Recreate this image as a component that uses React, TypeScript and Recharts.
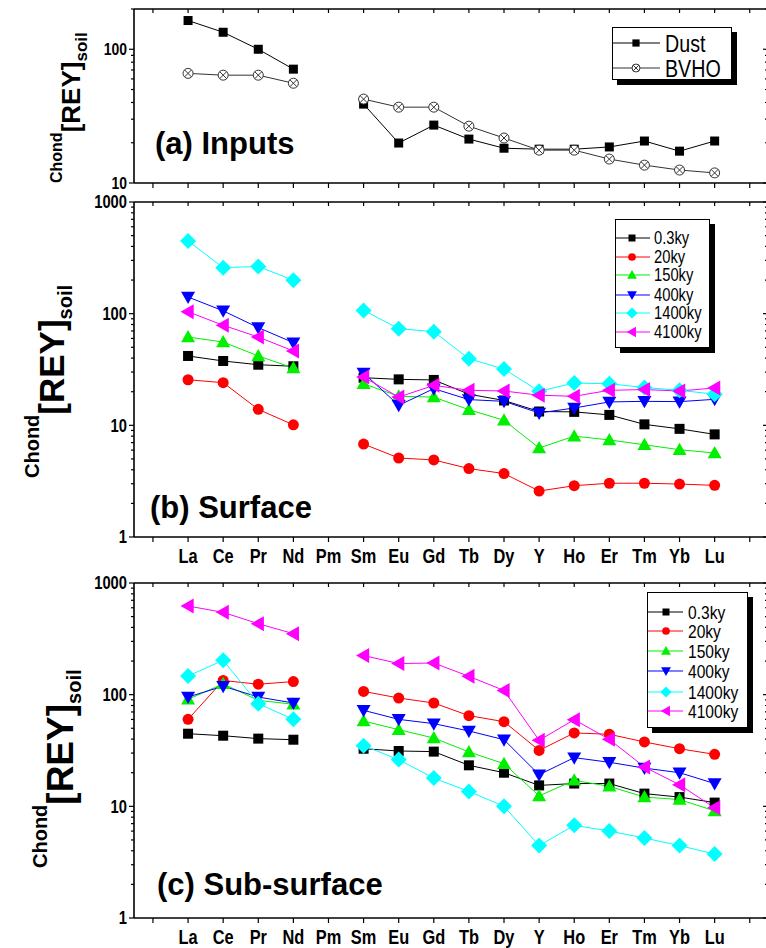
import React from 'react';
import { LineChart, Line, XAxis, YAxis } from 'recharts';

const elements = ['La', 'Ce', 'Pr', 'Nd', 'Pm', 'Sm', 'Eu', 'Gd', 'Tb', 'Dy', 'Y', 'Ho', 'Er', 'Tm', 'Yb', 'Lu'];

// (a) inputs
const dust = [164, 134, 100, 71, null, 38.9, 19.9, 27.1, 21.3, 18.2, 17.9, 17.9, 18.6, 20.6, 17.3, 20.6];
const bvho = [66, 64, 64, 55.7, null, 42.4, 36.9, 36.9, 26.6, 21.7, 17.6, 17.6, 15.1, 13.6, 12.5, 11.9];

const ages = ['0.3ky', '20ky', '150ky', '400ky', '1400ky', '4100ky'];

// (b) surface
const surf03 = [41.8, 37.7, 34.9, 33.8, null, 26.7, 25.8, 25.5, 19, 16.7, 13.3, 13.2, 12.4, 10.2, 9.3, 8.3];
const surf20 = [25.6, 24.1, 13.9, 10.1, null, 6.8, 5.1, 4.9, 4.1, 3.7, 2.58, 2.88, 3.03, 3.03, 2.98, 2.9];
const surf150 = [61.8, 55.7, 41.8, 32.6, null, 23.6, 18.2, 17.9, 13.8, 11.1, 6.27, 8.0, 7.4, 6.7, 6.05, 5.65];
const surf400 = [141, 106, 75, 55, null, 29.4, 15.1, 21.3, 17.0, 16.4, 12.9, 14.3, 16.2, 16.4, 16.3, 17.1];
const surf1400 = [448, 258, 265, 199, null, 107, 73.4, 69, 39.5, 31.9, 20.2, 23.9, 23.6, 21.8, 20.6, 19.0];
const surf4100 = [104, 78.7, 61.8, 46.3, null, 27.1, 17.9, 22.8, 20.6, 20.3, 18.6, 18.2, 20.6, 20.9, 20.3, 21.6];

// (c) sub-surface
const sub03 = [44.7, 42.9, 40.4, 39.5, null, 32.8, 31.3, 30.9, 23.3, 20.0, 15.4, 16.0, 16.0, 13.0, 12.1, 10.8];
const sub20 = [60.1, 134, 124, 131, null, 107, 93.3, 84.2, 64.9, 57.3, 31.7, 45.4, 44.2, 37.7, 32.8, 29.2];
const sub150 = [90.8, 125, 89, 82, null, 58.1, 48.6, 40.9, 30.7, 24.1, 12.4, 17.1, 15.1, 12.1, 11.5, 9.1];
const sub400 = [95.3, 119, 95.3, 84.2, null, 72.4, 60.1, 55, 47.3, 39.5, 19.2, 27.3, 24.8, 22.0, 20.0, 16.0];
const sub1400 = [147, 203, 83, 60.1, null, 34.9, 26.2, 17.9, 13.6, 10, 4.45, 6.76, 6.01, 5.2, 4.45, 3.74];
const sub4100 = [622, 546, 432, 352, null, 224, 190, 192, 146, 109, 39, 59.7, 39.8, 22.5, 15.6, 9.7];

const xTicks = [-1, 0, 1, 2, 3, 4, 5, 6, 7, 8, 9, 10, 11, 12, 13, 14, 15, 16];
const logTicksA = [10, 20, 30, 40, 50, 60, 70, 80, 90, 100, 200];
const logTicksBC = [1, 2, 3, 4, 5, 6, 7, 8, 9, 10, 20, 30, 40, 50, 60, 70, 80, 90, 100, 200, 300, 400, 500, 600, 700, 800, 900, 1000];

const ageColors = ['#000000', '#ff0000', '#00f000', '#0000ff', '#00ffff', '#ff00ff'];
const ageShapes = ['square', 'circle', 'up', 'down', 'diamond', 'left'];
const ageSizes = [10, 11, 14, 14, 16, 15];

const FONT = '"Liberation Sans", Arial, sans-serif';
const SQUEEZE = 0.82; // no narrow face installed, so squeeze Liberation Sans

function toRows(series: (number | null)[][]) {
  return elements.map((el, i) => {
    const row: any = { x: i, el };
    series.forEach((s, k) => {
      row['s' + k] = s[i];
    });
    return row;
  });
}

function NarrowText({ x, y, anchor = 'start', size, bold, children }: any) {
  return (
    <text
      transform={`translate(${x},${y}) scale(${SQUEEZE},1)`}
      dy="0.36em"
      textAnchor={anchor}
      fontFamily={FONT}
      fontWeight={bold ? 'bold' : 'normal'}
      fontSize={size}
      fill="#000"
    >
      {children}
    </text>
  );
}

function Mark({ shape, cx, cy, size, color }: any) {
  const h = size / 2;
  switch (shape) {
    case 'square':
      return <rect x={cx - h} y={cy - h} width={size} height={size} fill={color} />;
    case 'circle':
      return <circle cx={cx} cy={cy} r={h} fill={color} />;
    case 'up':
      return <polygon points={`${cx},${cy - h} ${cx + h},${cy + h * 0.75} ${cx - h},${cy + h * 0.75}`} fill={color} />;
    case 'down':
      return <polygon points={`${cx},${cy + h} ${cx + h},${cy - h * 0.75} ${cx - h},${cy - h * 0.75}`} fill={color} />;
    case 'diamond':
      return <polygon points={`${cx},${cy - h} ${cx + h},${cy} ${cx},${cy + h} ${cx - h},${cy}`} fill={color} />;
    case 'left':
      return <polygon points={`${cx - h},${cy} ${cx + h * 0.75},${cy - h} ${cx + h * 0.75},${cy + h}`} fill={color} />;
    case 'xcircle':
      return (
        <g fill="none" stroke="#333" strokeWidth={1}>
          <circle cx={cx} cy={cy} r={h} fill="#fff" />
          <line x1={cx - h * 0.7} y1={cy - h * 0.7} x2={cx + h * 0.7} y2={cy + h * 0.7} />
          <line x1={cx + h * 0.7} y1={cy - h * 0.7} x2={cx - h * 0.7} y2={cy + h * 0.7} />
        </g>
      );
    default:
      return null;
  }
}

function dotFor(shape: string, size: number, color: string) {
  return (p: any) => {
    if (p.value == null || p.cy == null || isNaN(p.cy)) return <g key={p.key} />;
    return (
      <g key={p.key}>
        <Mark shape={shape} cx={p.cx} cy={p.cy} size={size} color={color} />
      </g>
    );
  };
}

const isMajor = (v: number) => [1, 10, 100, 1000].includes(v);

function LeftTick({ x, y, payload, fontSize }: any) {
  const major = isMajor(payload.value);
  return (
    <g>
      <line x1={x} x2={x - (major ? 5 : 3)} y1={y} y2={y} stroke="#000" strokeWidth={1.2} />
      {major && (
        <NarrowText x={x - 7} y={y} anchor="end" size={fontSize} bold>
          {payload.value}
        </NarrowText>
      )}
    </g>
  );
}

function RightTick({ x, y, payload }: any) {
  const major = isMajor(payload.value);
  return <line x1={x} x2={x - (major ? 5 : 3)} y1={y} y2={y} stroke="#000" strokeWidth={1.2} />;
}

function BottomTick({ x, y, payload, showLabel }: any) {
  const name = elements[payload.value];
  return (
    <g>
      <line x1={x} x2={x} y1={y} y2={y + 5} stroke="#000" strokeWidth={1.2} />
      {showLabel && name && (
        <NarrowText x={x} y={y + 19} anchor="middle" size={20} bold>
          {name}
        </NarrowText>
      )}
    </g>
  );
}

function TopTick({ x, y }: any) {
  return <line x1={x} x2={x} y1={y} y2={y + 4} stroke="#000" strokeWidth={1.2} />;
}

type SeriesDef = { name: string; color: string; shape: string; size: number };

// plot box: x 134..768, y plotTop..plotBottom (page coords)
function Panel({ top, height, plotTop, plotBottom, rows, series, domain, yTicks, tickFont, showXLabels }: any) {
  const mTop = plotTop - top - 1;
  const mBottom = top + height - plotBottom - 1;
  return (
    <div style={{ position: 'absolute', left: 0, top }}>
      <LineChart width={790} height={height} data={rows} margin={{ top: mTop, right: 21, bottom: mBottom, left: 133 }}>
        <XAxis
          xAxisId="b"
          dataKey="x"
          type="number"
          domain={[-1.54, 16.52]}
          ticks={xTicks}
          interval={0}
          height={1}
          tickLine={false}
          tickSize={0}
          tickMargin={0}
          axisLine={{ stroke: '#000', strokeWidth: 1.6 }}
          allowDataOverflow
          tick={<BottomTick showLabel={showXLabels} />}
        />
        <XAxis
          xAxisId="t"
          orientation="top"
          dataKey="x"
          type="number"
          domain={[-1.54, 16.52]}
          ticks={xTicks}
          interval={0}
          height={1}
          tickLine={false}
          tickSize={0}
          tickMargin={0}
          axisLine={{ stroke: '#000', strokeWidth: 1.6 }}
          allowDataOverflow
          tick={<TopTick />}
        />
        <YAxis
          yAxisId="l"
          type="number"
          scale="log"
          domain={domain}
          ticks={yTicks}
          interval={0}
          width={1}
          tickLine={false}
          tickSize={0}
          tickMargin={0}
          axisLine={{ stroke: '#000', strokeWidth: 1.6 }}
          allowDataOverflow
          tick={<LeftTick fontSize={tickFont} />}
        />
        <YAxis
          yAxisId="r"
          orientation="right"
          type="number"
          scale="log"
          domain={domain}
          ticks={yTicks}
          interval={0}
          width={1}
          tickLine={false}
          tickSize={0}
          tickMargin={0}
          axisLine={{ stroke: '#000', strokeWidth: 1.6 }}
          allowDataOverflow
          tick={<RightTick />}
        />
        {series.map((s: SeriesDef, k: number) => (
          <Line
            key={s.name}
            xAxisId="b"
            yAxisId="l"
            dataKey={'s' + k}
            name={s.name}
            stroke={s.color}
            strokeWidth={1}
            dot={dotFor(s.shape, s.size, s.color)}
            activeDot={false}
            connectNulls={false}
            isAnimationActive={false}
          />
        ))}
      </LineChart>
    </div>
  );
}

function LegendBox({ left, top, width, height, rowY, items, lineX1, lineX2, markX, textX, fontSize, markScale }: any) {
  return (
    <div
      style={{
        position: 'absolute',
        left,
        top,
        width,
        height,
        border: '1px solid #000',
        background: '#fff',
        boxShadow: '5px 5px 0 #000',
        boxSizing: 'border-box',
      }}
    >
      <svg width={width} height={height} style={{ position: 'absolute', left: -1, top: -1 }}>
        {items.map((it: any, i: number) => (
          <g key={it.name}>
            <line x1={lineX1} x2={lineX2} y1={rowY[i]} y2={rowY[i]} stroke={it.color} strokeWidth={1} />
            <Mark shape={it.shape} cx={markX} cy={rowY[i]} size={it.size * markScale} color={it.color} />
            <NarrowText x={textX} y={rowY[i]} size={fontSize}>
              {it.name}
            </NarrowText>
          </g>
        ))}
      </svg>
    </div>
  );
}

function YLabel({ x, y, f1, f2, f3, d2, d3 }: any) {
  return (
    <text transform={`translate(${x},${y}) rotate(-90)`} fontFamily={FONT} fontWeight="bold" fill="#000">
      <tspan fontSize={f1}>Chond</tspan>
      <tspan fontSize={f2} dy={d2}>[REY]</tspan>
      <tspan fontSize={f3} dy={d3}>soil</tspan>
    </text>
  );
}

const ageSeries: SeriesDef[] = ages.map((a, i) => ({ name: a, color: ageColors[i], shape: ageShapes[i], size: ageSizes[i] }));
const inputSeries: SeriesDef[] = [
  { name: 'Dust', color: '#000000', shape: 'square', size: 9 },
  { name: 'BVHO', color: '#333333', shape: 'xcircle', size: 10 },
];

export default function App() {
  const rowsA = toRows([dust, bvho]);
  const rowsB = toRows([surf03, surf20, surf150, surf400, surf1400, surf4100]);
  const rowsC = toRows([sub03, sub20, sub150, sub400, sub1400, sub4100]);

  return (
    <div style={{ position: 'absolute', left: 0, top: 0, width: 766, height: 948, overflow: 'hidden', background: '#fff' }}>
      <Panel top={0} height={200} plotTop={9} plotBottom={183} rows={rowsA} series={inputSeries} domain={[10, 200]} yTicks={logTicksA} tickFont={17} showXLabels={false} />
      <Panel top={190} height={380} plotTop={202} plotBottom={537} rows={rowsB} series={ageSeries} domain={[1, 1000]} yTicks={logTicksBC} tickFont={18} showXLabels />
      <Panel top={570} height={378} plotTop={583} plotBottom={918} rows={rowsC} series={ageSeries} domain={[1, 1000]} yTicks={logTicksBC} tickFont={18} showXLabels />

      <svg width={766} height={948} style={{ position: 'absolute', left: 0, top: 0, pointerEvents: 'none' }}>
        <YLabel x={62} y={183} f1={16} f2={26} f3={17} d2={18} d3={7} />
        <YLabel x={39} y={478} f1={20} f2={35} f3={20} d2={25} d3={8} />
        <YLabel x={47} y={868} f1={20} f2={37} f3={20} d2={26} d3={8} />
        <text x={155} y={154} fontFamily={FONT} fontWeight="bold" fontSize={31} fill="#000">(a) Inputs</text>
        <text x={150} y={518} fontFamily={FONT} fontWeight="bold" fontSize={31} fill="#000">(b) Surface</text>
        <text x={157} y={895} fontFamily={FONT} fontWeight="bold" fontSize={31} fill="#000">(c) Sub-surface</text>
      </svg>

      <LegendBox left={612} top={27} width={120} height={53} rowY={[16, 41]} items={inputSeries} lineX1={1} lineX2={48} markX={24} textX={53} fontSize={24} markScale={0.8} />
      <LegendBox left={615} top={219} width={95} height={129} rowY={[19, 38, 56, 76, 94, 113]} items={ageSeries} lineX1={1} lineX2={35} markX={17} textX={39} fontSize={18} markScale={0.7} />
      <LegendBox left={647} top={592} width={101} height={136} rowY={[20, 39, 59, 79, 100, 119]} items={ageSeries} lineX1={1} lineX2={36} markX={19} textX={41} fontSize={19} markScale={0.7} />
    </div>
  );
}
